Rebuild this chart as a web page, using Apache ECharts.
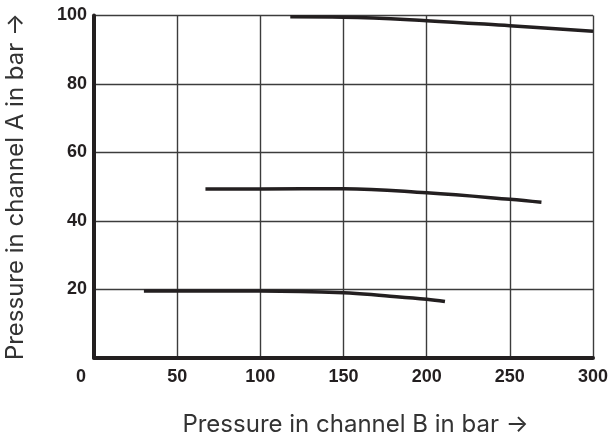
<!DOCTYPE html>
<html>
<head>
<meta charset="utf-8">
<script src="https://cdn.jsdelivr.net/npm/echarts@6/dist/echarts.min.js"></script>
<style>
  html, body { margin: 0; padding: 0; background: #fff; }
  #chart { width: 612px; height: 438px; }
</style>
</head>
<body>
<div id="chart"></div>
<script>
// Pressure in channel B (bar) along x, pressure held in channel A (bar) along y
const curveHighB = [118, 150, 200, 250, 300];
const curveHighA = [99.6, 99.5, 98.5, 97.0, 95.4];

const curveMidB = [67, 100, 150, 200, 250, 269];
const curveMidA = [49.3, 49.3, 49.4, 48.2, 46.3, 45.4];

const curveLowB = [30, 50, 100, 150, 175, 200, 211];
const curveLowA = [19.5, 19.5, 19.5, 19.0, 18.1, 17.1, 16.4];

const xTicks = [0, 50, 100, 150, 200, 250, 300];
const yTicks = [0, 20, 40, 60, 80, 100];

const xTitle = 'Pressure in channel B in bar \u2192';
const yTitle = 'Pressure in channel A in bar \u2192';

const ink = '#231f20';
const gridInk = '#3c3c3c';
const titleInk = '#333333';
const titleFont = 'Inter';

function pairs(xs, ys) {
  return xs.map((x, i) => [x, ys[i]]);
}

function curve(xs, ys) {
  return {
    type: 'line',
    data: pairs(xs, ys),
    smooth: 0.4,
    showSymbol: false,
    silent: true,
    lineStyle: { color: ink, width: 3.5, cap: 'butt' }
  };
}

const chart = echarts.init(document.getElementById('chart'), null, { renderer: 'canvas' });

chart.setOption({
  animation: false,
  backgroundColor: '#ffffff',
  grid: {
    left: 94, right: 19, top: 15.5, bottom: 80.3,
    containLabel: false,
    outerBoundsMode: 'none'
  },
  xAxis: {
    type: 'value',
    min: xTicks[0],
    max: xTicks[xTicks.length - 1],
    interval: xTicks[1] - xTicks[0],
    name: xTitle,
    nameLocation: 'middle',
    nameGap: 55,
    nameTextStyle: {
      fontFamily: titleFont, fontSize: 24, color: titleInk,
      padding: [0, 0, 0, 24]
    },
    axisLine: { show: true, lineStyle: { color: ink, width: 4 } },
    axisTick: { show: false },
    splitLine: { show: true, lineStyle: { color: gridInk, width: 1.4 } },
    axisLabel: {
      margin: 10,
      fontFamily: 'Liberation Sans', fontWeight: 'bold', fontSize: 18, color: ink,
      formatter: v => (v === 0 ? '{z|0}' : String(v)),
      rich: {
        z: {
          fontFamily: 'Liberation Sans', fontWeight: 'bold', fontSize: 18, color: ink,
          padding: [0, 26, 0, 0]
        }
      }
    }
  },
  yAxis: {
    type: 'value',
    min: yTicks[0],
    max: yTicks[yTicks.length - 1],
    interval: yTicks[1] - yTicks[0],
    name: yTitle,
    nameLocation: 'middle',
    nameRotate: 90,
    nameGap: 66,
    nameTextStyle: {
      fontFamily: titleFont, fontSize: 24, color: titleInk,
      padding: [0, 0, 0, 0]
    },
    axisLine: { show: true, lineStyle: { color: ink, width: 4 } },
    axisTick: { show: false },
    splitLine: { show: true, lineStyle: { color: gridInk, width: 1.4 } },
    axisLabel: {
      margin: 7,
      fontFamily: 'Liberation Sans', fontWeight: 'bold', fontSize: 18, color: ink,
      formatter: v => (v === 0 ? '' : String(v))
    }
  },
  series: [
    curve(curveHighB, curveHighA),
    curve(curveMidB, curveMidA),
    curve(curveLowB, curveLowA)
  ]
});
</script>
</body>
</html>
